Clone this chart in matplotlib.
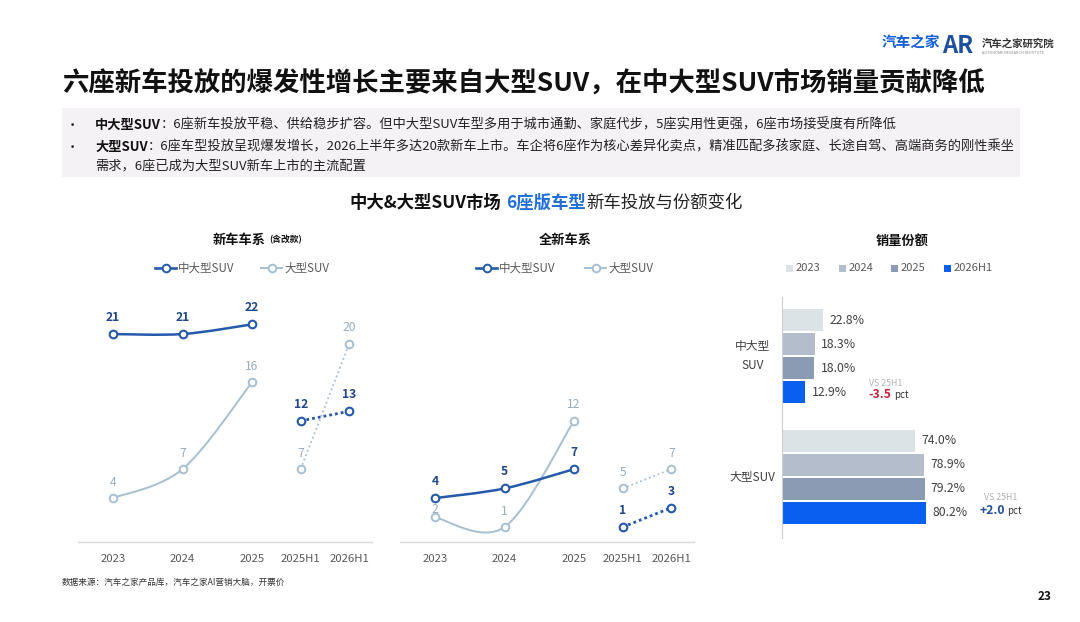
import numpy as np
import matplotlib
matplotlib.use('Agg')
import matplotlib.pyplot as plt
from matplotlib.path import Path
from matplotlib.patches import PathPatch, Rectangle
from matplotlib.lines import Line2D

plt.rcParams['font.family'] = ['Noto Sans CJK SC', 'DejaVu Sans']

# ---- data ----
periods = ['2023', '2024', '2025', '2025H1', '2026H1']
xpos = [0, 1, 2, 2.7, 3.4]

# 新车车系（含改款）
new_mid = [21, 21, 22, 12, 13]
new_large = [4, 7, 16, 7, 20]
# 全新车系
allnew_mid = [4, 5, 7, 1, 3]
allnew_large = [2, 1, 12, 5, 7]

# 销量份额 (%)
share_years = ['2023', '2024', '2025', '2026H1']
share_mid = [22.8, 18.3, 18.0, 12.9]
share_large = [74.0, 78.9, 79.2, 80.2]
segments = ['中大型\nSUV', '大型SUV']

MID = '#2559ab'
MID_TXT = '#1f4788'
LARGE = '#a7bfd2'
LARGE_TXT = '#9aabbb'
GRAY_TXT = '#595959'
bar_colors = ['#dce3e6', '#b4bdcb', '#8b9bb3', '#0a5ef0']

W, H = 1080, 622
fig = plt.figure(figsize=(W / 100, H / 100), dpi=100)

# background axes in pixel coords for all free text
bg = fig.add_axes([0, 0, 1, 1])
bg.set_xlim(0, W)
bg.set_ylim(H, 0)
bg.axis('off')


def rect(x0, y0, x1, y1):
    return [x0 / W, (H - y1) / H, (x1 - x0) / W, (y1 - y0) / H]


def chain(ax, x, y, parts, gaps=None):
    t = ax.text(x, y, parts[0][0], ha='left', va='center', **parts[0][1])
    for i, (s, style) in enumerate(parts[1:]):
        g = gaps[i] if gaps else 0
        t = ax.annotate(s, xy=(1, 0.5), xycoords=t, xytext=(g, 0),
                        textcoords='offset points', ha='left', va='center', **style)
    return t


def smooth_path(xs, ys):
    pts = np.column_stack([xs, ys]).astype(float)
    n = len(pts)
    verts = [pts[0]]
    codes = [Path.MOVETO]
    for i in range(n - 1):
        p0 = pts[max(i - 1, 0)]
        p1 = pts[i]
        p2 = pts[i + 1]
        p3 = pts[min(i + 2, n - 1)]
        verts += [p1 + (p2 - p0) / 6, p2 - (p3 - p1) / 6, p2]
        codes += [Path.CURVE4] * 3
    return Path(verts, codes)


# ---- header ----
bg.text(62, 84, '六座新车投放的爆发性增长主要来自大型SUV，在中大型SUV市场销量贡献降低',
        fontsize=19, fontweight='bold', color='#111111', va='center')

bg.text(911, 43, '汽车之家', fontsize=10.5, fontweight='bold', color='#1560d8',
        ha='center', va='center')
bg.text(958, 46, 'AR', fontsize=17, fontweight='bold', color='#1f4fa0',
        ha='center', va='center')
bg.text(982, 44, '汽车之家研究院', fontsize=7.5, fontweight='bold', color='#333333', va='center')
bg.text(982, 53, 'AUTOHOME RESEARCH INSTITUTE', fontsize=2.8, color='#888888', va='center')

bg.add_patch(Rectangle((62, 108), 958, 69, color='#f5f2f5', lw=0))
reg = dict(fontsize=9.5, color='#222222')
bold = dict(fontsize=9.5, color='#111111', fontweight='bold')
bg.text(72, 125, '•', ha='center', va='center', **reg)
bg.text(72, 147, '•', ha='center', va='center', **reg)
chain(bg, 95, 125, [('中大型SUV', bold),
                    ('：6座新车投放平稳、供给稳步扩容。但中大型SUV车型多用于城市通勤、家庭代步，5座实用性更强，6座市场接受度有所降低', reg)])
chain(bg, 95, 147, [('大型SUV', bold),
                    ('：6座车型投放呈现爆发增长，2026上半年多达20款新车上市。车企将6座作为核心差异化卖点，精准匹配多孩家庭、长途自驾、高端商务的刚性乘坐', reg)])
bg.text(95, 166, '需求，6座已成为大型SUV新车上市的主流配置', va='center', **reg)

chain(bg, 349, 203, [('中大&大型SUV市场', dict(fontsize=12.5, fontweight='bold', color='#111111')),
                     ('6座版车型', dict(fontsize=12.5, fontweight='bold', color='#1f6fd6')),
                     ('新车投放与份额变化', dict(fontsize=12.5, color='#222222'))], gaps=[4, 0])

chain(bg, 213, 240, [('新车车系', dict(fontsize=9.5, fontweight='bold', color='#111111')),
                     ('(含改款)', dict(fontsize=6.3, fontweight='bold', color='#111111'))], gaps=[2])
bg.text(565, 240, '全新车系', fontsize=9.5, fontweight='bold', color='#111111', ha='center', va='center')
bg.text(902, 241, '销量份额', fontsize=9.5, fontweight='bold', color='#111111', ha='center', va='center')

# line legends
for x0, color, lw, label in [(155, MID, 1.9, '中大型SUV'), (261, LARGE, 1.4, '大型SUV'),
                             (476, MID, 1.9, '中大型SUV'), (585, LARGE, 1.4, '大型SUV')]:
    bg.add_line(Line2D([x0, x0 + 21], [268, 268], color=color, lw=lw))
    bg.plot([x0 + 10.5], [268], marker='o', ms=5.5, mfc='white', mec=color, mew=1.4)
    bg.text(x0 + 23, 268, label, fontsize=8.3, color=GRAY_TXT, va='center')

# bar legend
for x0, c, label in zip([789, 842, 894, 947], bar_colors, share_years):
    bg.add_patch(Rectangle((x0 - 3.5, 264.5), 7, 7, color=c, lw=0))
    bg.text(x0 + 7, 268, label, fontsize=8, color=GRAY_TXT, va='center')

# ---- line panels ----
PX_X = 69.5
PX_Y = 9.65


def line_panel(x_left, mid, large, large_off):
    ax = fig.add_axes(rect(x_left, 290, x_left + 294, 542))
    ax.set_xlim(-35 / PX_X, -35 / PX_X + 294 / PX_X)
    ax.set_ylim(-0.55, -0.55 + 252 / PX_Y)
    ax.patch.set_alpha(0)
    for s in ['top', 'left', 'right']:
        ax.spines[s].set_visible(False)
    ax.spines['bottom'].set_color('#d9d9d9')
    ax.spines['bottom'].set_linewidth(1)
    ax.set_yticks([])
    ax.set_xticks(xpos, periods)
    ax.tick_params(axis='x', length=0, pad=9, labelsize=8.2, labelcolor=GRAY_TXT)

    ax.add_patch(PathPatch(smooth_path(xpos[:3], large[:3]), fill=False, ec=LARGE, lw=1.4, zorder=2))
    ax.add_patch(PathPatch(smooth_path(xpos[:3], mid[:3]), fill=False, ec=MID, lw=1.8, zorder=3))
    ax.plot(xpos[3:], large[3:], ls=(0, (1, 1.6)), color=LARGE, lw=1.3, zorder=2)
    ax.plot(xpos[3:], mid[3:], ls=(0, (1, 1.1)), color=MID, lw=2.0, zorder=3)
    ax.plot(xpos, large, ls='none', marker='o', ms=5.5, mfc='white', mec=LARGE, mew=1.4, zorder=4)
    ax.plot(xpos, mid, ls='none', marker='o', ms=5.5, mfc='white', mec=MID, mew=1.5, zorder=5)
    for x, v, off in zip(xpos, large, large_off):
        ax.annotate(str(v), (x, v), xytext=(0, off), textcoords='offset points',
                    ha='center', va='center', fontsize=8.7, color=LARGE_TXT, zorder=6)
    for x, v in zip(xpos, mid):
        ax.annotate(str(v), (x, v), xytext=(0, 12), textcoords='offset points',
                    ha='center', va='center', fontsize=8.7, fontweight='bold', color=MID_TXT, zorder=6)
    return ax


line_panel(78, new_mid, new_large, [11.5] * 5)
line_panel(400, allnew_mid, allnew_large, [6, 11.5, 11.5, 11.5, 11.5])

# ---- share bars ----
axb = fig.add_axes(rect(782, 297, 1050, 538))
axb.patch.set_alpha(0)
axb.set_xlim(0, 268 / 1.8)
axb.set_ylim(218 / 24, -23 / 24)
for s in ['top', 'right', 'bottom']:
    axb.spines[s].set_visible(False)
axb.spines['left'].set_color('#cfcfcf')
axb.set_xticks([])
axb.set_yticks([])

group_y = [0, 5.04]
for g, vals in zip(group_y, [share_mid, share_large]):
    ys = [g + i for i in range(len(vals))]
    axb.barh(ys, vals, height=0.88, color=bar_colors, lw=0)
    for y, v in zip(ys, vals):
        axb.text(v + 3.5, y, f'{v:.1f}%', fontsize=8.8, color='#404040', va='center', ha='left')
for g, seg in zip(group_y, segments):
    axb.text(-16.5, g + 1.5, seg, fontsize=8.5, color='#404040', ha='center', va='center',
             linespacing=1.6)

# VS 25H1 notes
bg.text(886, 383, 'VS 25H1', fontsize=6.3, color='#b0b0b0', ha='center', va='center')
chain(bg, 868, 395, [('-3.5', dict(fontsize=8.8, fontweight='bold', color='#c0283c')),
                     ('pct', dict(fontsize=7, color='#333333'))], gaps=[2])
bg.text(1001, 498, 'VS 25H1', fontsize=6.3, color='#b0b0b0', ha='center', va='center')
chain(bg, 979, 511, [('+2.0', dict(fontsize=8.8, fontweight='bold', color='#1f4e9a')),
                     ('pct', dict(fontsize=7, color='#333333'))], gaps=[2])

# ---- footer ----
bg.text(62, 582, '数据来源：汽车之家产品库，汽车之家AI营销大脑，开票价', fontsize=6.2,
        color='#333333', va='center')
bg.text(1045, 596, '23', fontsize=8.5, fontweight='bold', color='#111111', ha='center', va='center')

fig.savefig('out.png', dpi=100)
